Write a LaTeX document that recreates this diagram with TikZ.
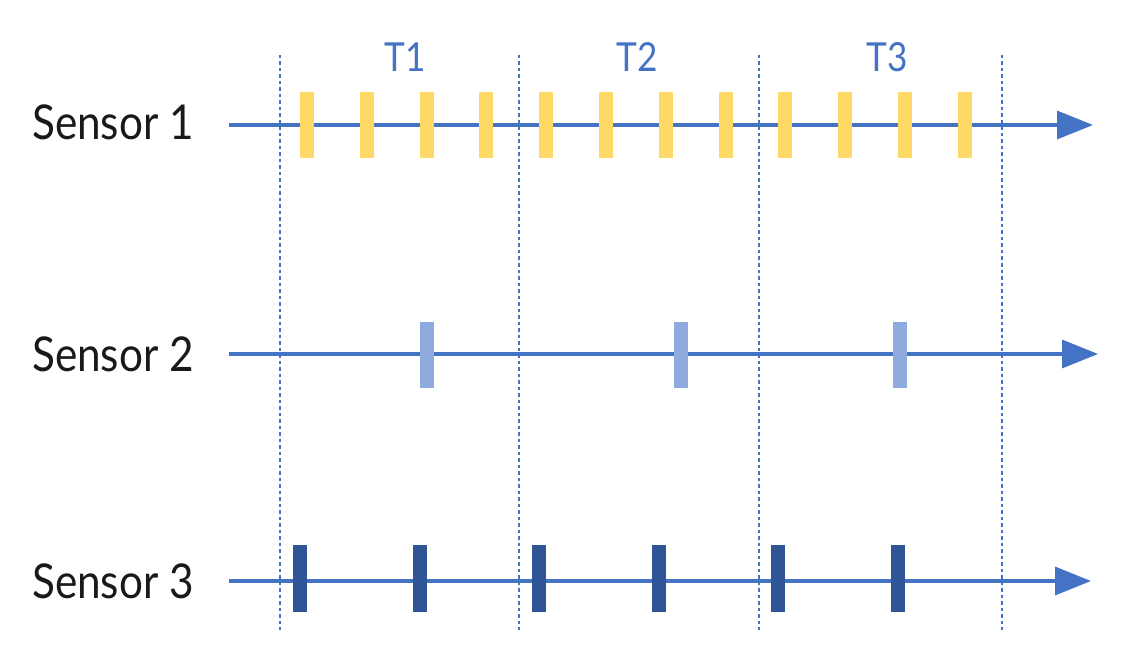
\documentclass[tikz,border=0pt]{standalone}
\usepackage{fontspec}
\setmainfont{Lato}[FakeStretch=0.88]
\usepackage{tikz}
\usetikzlibrary{arrows.meta}

\definecolor{axisblue}{HTML}{4472C4}
\definecolor{pulseyellow}{HTML}{FFD966}
\definecolor{pulselight}{HTML}{8FAADC}
\definecolor{pulsedark}{HTML}{2F5597}

\begin{document}
\begin{tikzpicture}[x=1pt,y=-1pt,
  axis/.style={line width=3.5pt,axisblue,-{Triangle[length=36pt,width=28pt]}},
  slot/.style={line width=2.6pt,axisblue,dash pattern=on 3.5pt off 3pt},
  pulse/.style={draw=none,inner sep=0pt,minimum width=14pt,minimum height=66pt},
  sensor/.style={inner sep=0pt,font=\fontsize{48}{58}\selectfont,text=black!90},
  period/.style={inner sep=0pt,font=\fontsize{40}{48}\selectfont,text=axisblue}]
\useasboundingbox (0,0) rectangle (1122,663);
% time slots
\foreach \i/\x in {0/280,1/519,2/759,3/1002} {
  \coordinate (top\i) at (\x,55);
  \coordinate (bot\i) at (\x,630);
  \draw[slot] (top\i) -- (bot\i);
}
\node[period] (t1) at (405,57) {T1};
\node[period] (t2) at (637,57) {T2};
\node[period] (t3) at (887,57) {T3};
% sensor labels
\node[sensor] (s1) at (113,122) {Sensor 1};
\node[sensor] (s2) at (113,354) {Sensor 2};
\node[sensor] (s3) at (113,581) {Sensor 3};
% axes
\coordinate (a1) at (229,125);
\coordinate (e1) at (1093,125);
\coordinate (a2) at (229,354);
\coordinate (e2) at (1098,354);
\coordinate (a3) at (229,581);
\coordinate (e3) at (1091,581);
\draw[axis] (a1) -- (e1);
\draw[axis] (a2) -- (e2);
\draw[axis] (a3) -- (e3);
% sensor 1 samples
\foreach \k in {0,...,11}
  \node[pulse,fill=pulseyellow] (p1-\k) at (307+59.8*\k,125) {};
% sensor 2 samples
\foreach \k/\x in {0/427,1/681,2/900}
  \node[pulse,fill=pulselight] (p2-\k) at (\x,355) {};
% sensor 3 samples
\foreach \k in {0,...,5}
  \node[pulse,fill=pulsedark,minimum height=67pt] (p3-\k) at (300+119.5*\k,578.5) {};
\end{tikzpicture}
\end{document}
